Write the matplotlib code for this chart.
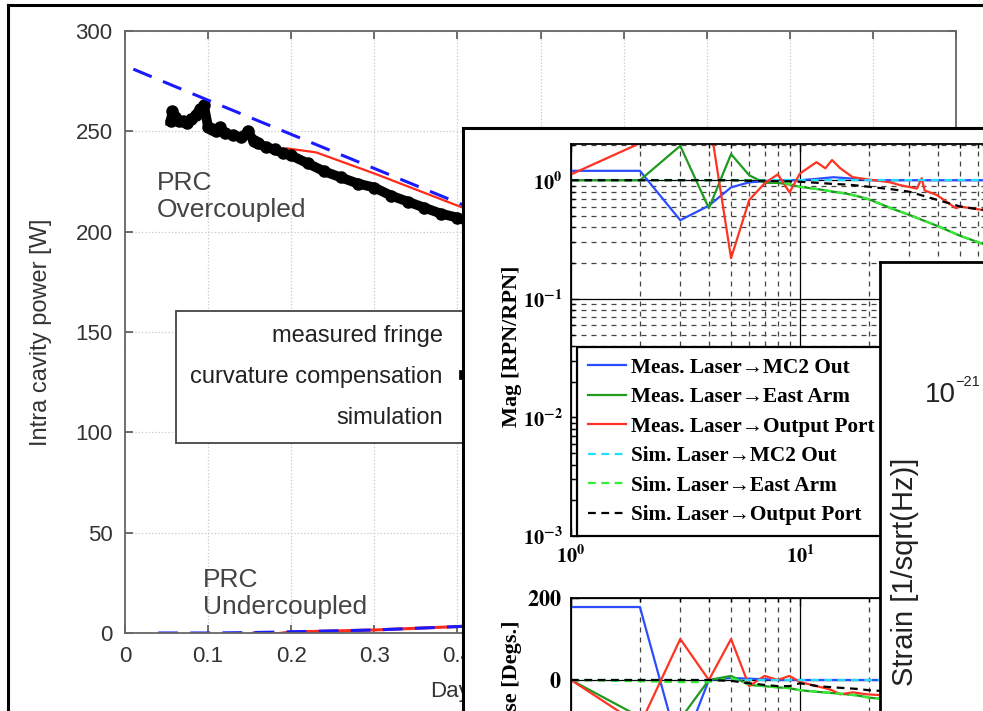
import numpy as np
import matplotlib
matplotlib.use('Agg')
import matplotlib.pyplot as plt
from matplotlib.lines import Line2D
from matplotlib.ticker import LogLocator, NullFormatter, FuncFormatter, FixedLocator

W, H = 983, 711
plt.rcParams['font.family'] = ['Liberation Sans', 'DejaVu Sans']
plt.rcParams['mathtext.fontset'] = 'stix'
SERIF = ['Liberation Serif', 'DejaVu Serif']

# ---- panel 1: intra cavity power
day_curv = [0.055, 0.057, 0.06, 0.065, 0.07, 0.075, 0.08, 0.085, 0.09, 0.095, 0.1, 0.105,
            0.11, 0.114, 0.12, 0.13, 0.14, 0.148, 0.155, 0.16, 0.17, 0.18, 0.19, 0.2,
            0.22, 0.24, 0.26, 0.28, 0.3, 0.32, 0.34, 0.36, 0.38, 0.4, 0.42]
pow_curv = [255, 260, 257, 255, 255, 254, 256, 258, 261, 263, 252, 251,
            250, 252, 249, 248, 247, 250, 245, 244, 242, 241, 239, 238,
            234, 230, 227, 224, 222, 218, 215, 212, 209, 207, 204]
day_fringe = [0.195, 0.23, 0.3, 0.4, 0.42]
pow_fringe = [241.5, 239.5, 229, 213, 210]
day_sim = [0.01, 0.1, 0.2, 0.3, 0.4, 0.42]
pow_sim = [281, 265.5, 248.5, 231.5, 214.5, 211]
day_fringe_lo = [0.155, 0.165, 0.18, 0.2, 0.3, 0.4, 0.42]
pow_fringe_lo = [0, -1, -0.5, 0.5, 1.5, 3.2, 3.6]
day_sim_lo = [0.04, 0.1, 0.15, 0.2, 0.3, 0.4, 0.42]
pow_sim_lo = [0, 0, 0.2, 0.6, 1.5, 3.2, 3.6]

# ---- panel 2: transfer functions (magnitude / phase)
f_mc2 = [1, 2, 3, 4, 5, 6, 7, 8, 10, 12, 14, 17, 20, 30, 50, 100]
mag_mc2 = [1.2, 1.2, 0.46, 0.61, 0.87, 0.96, 0.98, 1.0, 1.0, 1.03, 1.06, 1.03, 1.0, 1.0, 1.0, 1.0]
f_east = [1, 2, 3, 4, 5, 6, 7, 8, 9, 10, 12, 14, 16, 18, 20, 25, 30, 40, 50, 60, 70, 100]
mag_east = [1.0, 1.0, 1.95, 0.58, 1.66, 1.1, 0.95, 0.95, 0.92, 0.88, 0.84, 0.8, 0.77, 0.73,
            0.69, 0.58, 0.51, 0.41, 0.34, 0.3, 0.27, 0.2]
f_out = [1, 2, 3, 4, 5, 6, 7, 8, 9, 10, 11.8, 12.9, 13.8, 15, 17, 19.6, 24.7, 27.3, 32.4,
         34, 35, 39.6, 48, 50, 63, 100]
mag_out = [1.12, 2.05, 4.5, 3.5, 0.22, 0.68, 0.94, 1.12, 0.79, 1.14, 1.42, 1.26, 1.48, 1.26,
           1.06, 1.02, 0.96, 0.91, 0.85, 1.04, 0.82, 0.75, 0.58, 0.6, 0.56, 0.5]
f_sim = [1, 2, 3, 4, 5, 6, 7, 8, 9, 10, 12, 14, 16, 18, 20, 25, 30, 40, 50, 60, 70, 100]
sim_mc2 = [1.0] * 22
sim_east = [1.0, 1.0, 1.0, 1.0, 1.0, 1.0, 0.99, 0.97, 0.93, 0.88, 0.84, 0.8, 0.77, 0.73,
            0.69, 0.58, 0.51, 0.41, 0.34, 0.3, 0.27, 0.2]
sim_out = [1.0, 1.0, 1.0, 1.0, 1.0, 0.99, 0.99, 0.98, 0.98, 0.97, 0.95, 0.93, 0.92, 0.9,
           0.88, 0.84, 0.8, 0.68, 0.6, 0.57, 0.55, 0.5]

ph_mc2 = [178, 178, -180, 0, 5, 3, 2, 0, 0, 0, 0, 0, 0, 0, 0, 0]
ph_east = [0, -90, -95, 0, 10, -12, -15, -18, -20, -25, -29, -32, -35, -38, -43, -48, -52,
           -58, -62, -66, -70, -80]
ph_out = [0, -110, 100, 0, 100, -15, 10, 0, 10, -5, -15, -20, -25, -35, -30, -35, -38, -40,
          -42, -42, -43, -45, -48, -50, -55, -60]
sph_mc2 = [0] * 22
sph_east = [0, -3, -5, -5, 5, -10, -15, -18, -20, -25, -29, -32, -35, -38, -43, -48, -52,
            -58, -62, -66, -70, -80]
sph_out = [0, 0, 0, 0, -2, -8, -12, -15, -15, -8, -15, -18, -20, -22, -25, -28, -30, -35,
           -40, -45, -50, -60]

# ---- panel 3: strain label only
strain_tick = '10'
strain_exp = '\u221221'


def box(x0, y0, x1, y1):
    return [x0 / W, 1 - y1 / H, (x1 - x0) / W, (y1 - y0) / H]


fig = plt.figure(figsize=(W / 100, H / 100), dpi=100)

# outer frame
fig.add_artist(Line2D([8 / W, 1.0], [1 - 5 / H, 1 - 5 / H], color='k', lw=2.2))
fig.add_artist(Line2D([8 / W, 8 / W], [0, 1 - 5 / H], color='k', lw=2.2))

# ======== panel 1
ax1 = fig.add_axes(box(125, 31, 956, 633))
ax1.plot(day_fringe, pow_fringe, color='#ff2a1a', lw=1.6, label='measured fringe')
ax1.plot(day_curv, pow_curv, 'o-', color='k', ms=8, lw=7, label='curvature compensation')
ax1.plot(day_sim, pow_sim, color='#1a1aff', lw=2.2, dashes=(6.5, 4), label='simulation')
ax1.plot(day_fringe_lo, pow_fringe_lo, color='#ff2a1a', lw=2.2)
ax1.plot(day_sim_lo, pow_sim_lo, color='#1a1aff', lw=2.2, dashes=(6.5, 4))
ax1.set_xlim(0, 1)
ax1.set_ylim(0, 300)
ax1.set_xticks(np.arange(0, 1.01, 0.1))
ax1.set_yticks(np.arange(0, 301, 50))
ax1.xaxis.set_major_formatter(FuncFormatter(lambda v, p: '0' if v == 0 else ('%.1f' % v)))
ax1.grid(True, color='#c8c8c8', ls=':', lw=0.9)
ax1.tick_params(direction='in', top=True, right=True, length=6, width=1.2, color='#555',
                labelsize=16, labelcolor='#333', pad=9)
for s in ax1.spines.values():
    s.set_color('#666')
    s.set_linewidth(1.3)
ax1.set_ylabel('Intra cavity power [W]', fontsize=17, color='#333')
ax1.yaxis.set_label_coords(-0.088, 0.5)
ax1.set_xlabel('Days', fontsize=16, color='#333', ha='left')
ax1.xaxis.set_label_coords((430 - 125) / 831, -0.08)
ax1.text(0.0385, 230, 'PRC\nOvercoupled', fontsize=19, color='#444', va='top', linespacing=1.15)
ax1.text(0.094, 32.5, 'PRC\nUndercoupled', fontsize=19, color='#444', va='top', linespacing=1.15)
leg1 = ax1.legend(loc='upper left', bbox_to_anchor=(176 / W, 1 - 311 / H),
                  bbox_transform=fig.transFigure, borderaxespad=0, markerfirst=False,
                  fancybox=False, edgecolor='#444', framealpha=1, fontsize=17,
                  labelspacing=0.8, borderpad=0.6, handletextpad=0.9, handlelength=2.5)
for t in leg1.get_texts():
    t.set_color('#222')
leg1.get_frame().set_linewidth(1.3)

# ======== panel 2
fr2 = fig.add_axes(box(463, 128, 1100, 800))
fr2.set_xticks([])
fr2.set_yticks([])
for s in fr2.spines.values():
    s.set_linewidth(2.2)
    s.set_color('k')

colors = dict(mc2='#2a4dff', east='#1f9a1f', out='#ff3322', smc2='#22ddff', seast='#33ee33', sout='k')
dash = (3.5, 2.5)


def decade_label(v, p):
    e = int(round(np.log10(v)))
    if e >= 2:
        return ''
    return r'$\mathbf{10^{%d}}$' % e


def style_log_axes(ax):
    ax.grid(True, which='major', color='k', lw=0.9, ls='-')
    ax.grid(True, which='minor', color='#444', lw=0.9, ls=(0, (4, 4)))
    ax.tick_params(which='both', direction='in', top=True, right=True, width=1.0)
    ax.tick_params(which='major', length=6)
    ax.tick_params(which='minor', length=3)
    for s in ax.spines.values():
        s.set_color('k')
        s.set_linewidth(1.3)


axm = fig.add_axes(box(571, 144, 1029, 536))
axm.plot(f_mc2, mag_mc2, color=colors['mc2'], lw=1.6, label='Meas. Laser\u2192MC2 Out')
axm.plot(f_east, mag_east, color=colors['east'], lw=1.6, label='Meas. Laser\u2192East Arm')
axm.plot(f_out, mag_out, color=colors['out'], lw=1.6, label='Meas. Laser\u2192Output Port')
axm.plot(f_sim, sim_mc2, color=colors['smc2'], lw=1.6, dashes=dash, label='Sim. Laser\u2192MC2 Out')
axm.plot(f_sim, sim_east, color=colors['seast'], lw=1.6, dashes=dash, label='Sim. Laser\u2192East Arm')
axm.plot(f_sim, sim_out, color=colors['sout'], lw=1.6, dashes=dash, label='Sim. Laser\u2192Output Port')
axm.set_xscale('log')
axm.set_yscale('log')
axm.set_xlim(1, 100)
axm.set_ylim(1e-3, 2.02)
axm.yaxis.set_major_locator(FixedLocator([1e-3, 1e-2, 1e-1, 1]))
axm.yaxis.set_minor_locator(LogLocator(base=10, subs=np.arange(2, 10), numticks=20))
axm.xaxis.set_minor_locator(LogLocator(base=10, subs=np.arange(2, 10), numticks=20))
axm.xaxis.set_major_formatter(FuncFormatter(decade_label))
axm.yaxis.set_major_formatter(FuncFormatter(decade_label))
axm.xaxis.set_minor_formatter(NullFormatter())
axm.yaxis.set_minor_formatter(NullFormatter())
style_log_axes(axm)
axm.tick_params(which='major', labelsize=14.5, pad=6)
axm.set_ylabel('Mag [RPN/RPN]', fontsize=16, fontweight='bold', family=SERIF)
axm.yaxis.set_label_coords(-0.107, 0.485)
leg2 = axm.legend(loc='upper left', bbox_to_anchor=(577 / W, 1 - 347 / H),
                  bbox_transform=fig.transFigure, borderaxespad=0, fancybox=False,
                  edgecolor='k', framealpha=1,
                  prop=dict(family=SERIF, weight='bold', size=15.3),
                  labelspacing=0.45, borderpad=0.5, handletextpad=0.25, handlelength=1.8)
leg2.get_frame().set_linewidth(1.6)

axp = fig.add_axes(box(571, 598, 1029, 762))
axp.plot(f_mc2, ph_mc2, color=colors['mc2'], lw=1.6)
axp.plot(f_east, ph_east, color=colors['east'], lw=1.6)
axp.plot(f_out, ph_out, color=colors['out'], lw=1.6)
axp.plot(f_sim, sph_mc2, color=colors['smc2'], lw=1.6, dashes=dash)
axp.plot(f_sim, sph_east, color=colors['seast'], lw=1.6, dashes=dash)
axp.plot(f_sim, sph_out, color=colors['sout'], lw=1.6, dashes=dash)
axp.set_xscale('log')
axp.set_xlim(1, 100)
axp.set_ylim(-200, 200)
axp.set_yticks([-200, 0, 200])
axp.xaxis.set_minor_locator(LogLocator(base=10, subs=np.arange(2, 10), numticks=20))
axp.xaxis.set_minor_formatter(NullFormatter())
axp.yaxis.set_major_formatter(FuncFormatter(lambda v, p: r'$\mathbf{%d}$' % v))
style_log_axes(axp)
axp.grid(False, which='minor', axis='y')
axp.tick_params(which='major', labelsize=16, pad=7)
axp.tick_params(labelbottom=False)
axp.set_ylabel('Phase [Degs.]', fontsize=16, fontweight='bold', family=SERIF)
axp.yaxis.set_label_coords(-0.107, 0.476)

# ======== panel 3
fr3 = fig.add_axes(box(880, 262, 1100, 800))
fr3.set_xticks([])
fr3.set_yticks([])
for s in fr3.spines.values():
    s.set_linewidth(2.0)
    s.set_color('k')
fig.text(925 / W, 1 - 402 / H, strain_tick, fontsize=20, color='#222', ha='left', va='baseline')
fig.text(955 / W, 1 - 386 / H, strain_exp, fontsize=10.5, color='#222', ha='left', va='baseline')
fig.text(905 / W, 1 - 572 / H, 'Strain [1/sqrt(Hz)]', fontsize=21, color='#222',
         rotation=90, ha='center', va='center')

fig.savefig('out.png', dpi=100)
